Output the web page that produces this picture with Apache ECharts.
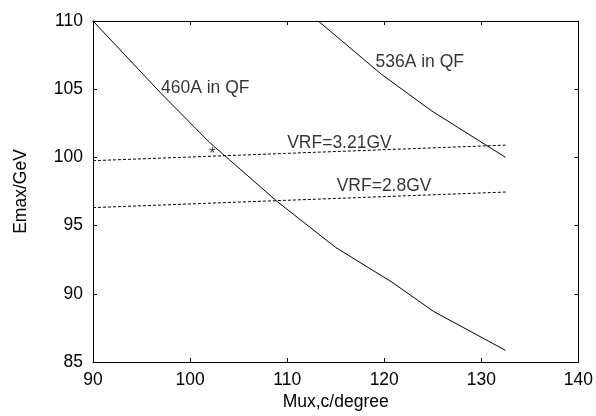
<!DOCTYPE html>
<html>
<head>
<meta charset="utf-8">
<script src="https://cdn.jsdelivr.net/npm/echarts@6/dist/echarts.min.js"></script>
<style>
  html, body { margin: 0; padding: 0; background: #fff; }
  #chart { width: 596px; height: 416px; }
</style>
</head>
<body>
<div id="chart"></div>
<script>
// curve: Emax vs Mux for 460A and 536A in QF
const x460 = [90, 97, 102, 109, 115, 120.8, 125.1, 132.5];
const y460 = [110, 104.7, 101.1, 96.75, 93.4, 90.85, 88.7, 85.85];
const x536 = [113.2, 119.7, 124.9, 132.5];
const y536 = [110, 106.1, 103.4, 100.0];
// RF voltage limits (dashed)
const vrfX = [90, 132.5];
const vrf321 = [99.76, 100.9];
const vrf28 = [96.32, 97.46];
// text labels placed in data coordinates
const labelText = ['460A in QF', '536A in QF', 'VRF=3.21GV', 'VRF=2.8GV'];
const labelX = [97.0, 119.1, 110.0, 115.1];
const labelY = [105.05, 107.0, 101.05, 97.9];
const starPoint = [102.3, 100.2];

const font = 'Liberation Sans, Arial, sans-serif';
const fs = 17.5;
const black = '#000';

function pairs(xs, ys) {
  return xs.map(function (x, i) { return [x, ys[i]]; });
}

const chart = echarts.init(document.getElementById('chart'));

const axisCommon = {
  axisLine: { show: true, lineStyle: { color: black, width: 1 } },
  axisTick: { show: true, inside: true, length: 4, lineStyle: { color: black } },
  splitLine: { show: false }
};

chart.setOption({
  animation: false,
  backgroundColor: '#fff',
  grid: { left: 93, right: 16, top: 21, bottom: 46 },
  xAxis: [
    Object.assign({
      type: 'value', min: 90, max: 140, interval: 10, position: 'bottom',
      name: 'Mux,c/degree', nameLocation: 'middle', nameGap: 31, nameMoveOverlap: false,
      nameTextStyle: { color: black, fontSize: fs, fontFamily: font },
      axisLabel: { color: black, fontSize: fs, fontFamily: font, margin: 9 }
    }, axisCommon),
    Object.assign({
      type: 'value', min: 90, max: 140, interval: 10, position: 'top',
      axisLabel: { show: false }
    }, axisCommon)
  ],
  yAxis: [
    Object.assign({
      type: 'value', min: 85, max: 110, interval: 5, position: 'left',
      name: 'Emax/GeV', nameLocation: 'middle', nameGap: 63, nameMoveOverlap: false,
      nameTextStyle: { color: black, fontSize: fs, fontFamily: font },
      axisLabel: { color: black, fontSize: fs, fontFamily: font, margin: 10 }
    }, axisCommon),
    Object.assign({
      type: 'value', min: 85, max: 110, interval: 5, position: 'right',
      axisLabel: { show: false }
    }, axisCommon)
  ],
  series: [
    {
      type: 'line', data: pairs(x460, y460), showSymbol: false,
      lineStyle: { color: black, width: 1 }
    },
    {
      type: 'line', data: pairs(x536, y536), showSymbol: false,
      lineStyle: { color: black, width: 1 }
    },
    {
      type: 'line', data: pairs(vrfX, vrf321), showSymbol: false,
      lineStyle: { color: black, width: 1, type: [3, 2] }
    },
    {
      type: 'line', data: pairs(vrfX, vrf28), showSymbol: false,
      lineStyle: { color: black, width: 1, type: [3, 2] }
    },
    {
      type: 'scatter', symbolSize: 0,
      data: labelText.map(function (t, i) { return { value: [labelX[i], labelY[i]], name: t }; }),
      label: {
        show: true, position: 'right', distance: 0, formatter: '{b}',
        color: black, fontSize: fs, fontFamily: font
      }
    },
    {
      type: 'scatter', symbolSize: 0,
      data: [{ value: starPoint, name: '*' }],
      label: {
        show: true, position: 'inside', formatter: '{b}',
        color: black, fontSize: 16, fontFamily: font
      }
    }
  ]
});
</script>
</body>
</html>
